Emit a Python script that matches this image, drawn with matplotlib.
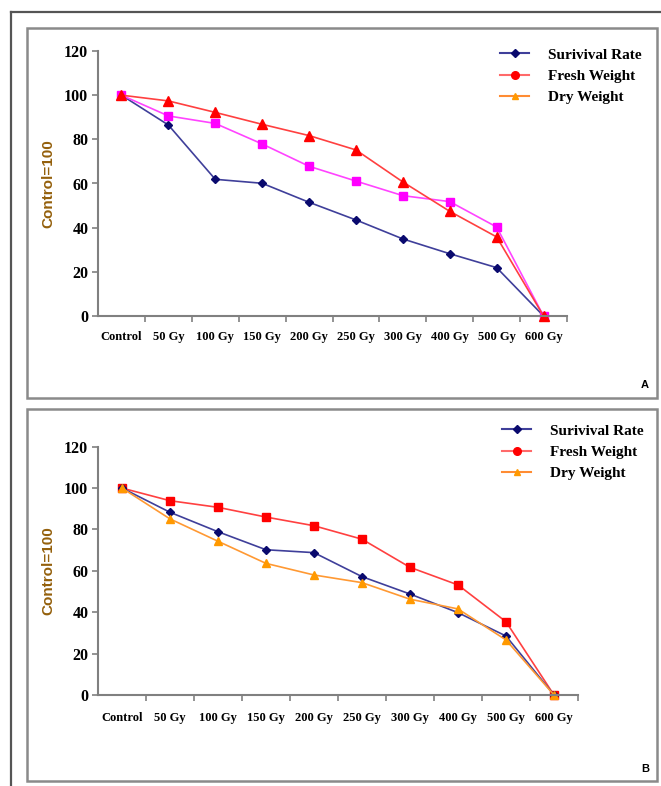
import matplotlib
matplotlib.use("Agg")
import matplotlib.pyplot as plt
from matplotlib.lines import Line2D
from matplotlib.patches import Rectangle

categories = ["Control", "50 Gy", "100 Gy", "150 Gy", "200 Gy", "250 Gy",
              "300 Gy", "400 Gy", "500 Gy", "600 Gy"]
yticks = [0, 20, 40, 60, 80, 100, 120]
legend_labels = ["Surivival Rate", "Fresh Weight", "Dry Weight"]

# Panel A
survival_a = [100, 86.5, 61.9, 60.1, 51.5, 43.5, 34.9, 28.2, 21.9, 0]
fresh_a = [100, 97.4, 92.2, 86.8, 81.7, 75.2, 60.7, 47.4, 35.8, 0]
dry_a = [100, 90.6, 87.2, 77.9, 67.8, 61.1, 54.5, 51.8, 40.3, 0]

# Panel B
survival_b = [100, 88.3, 78.9, 70.2, 68.8, 57.2, 48.8, 39.8, 28.5, 0]
fresh_b = [100, 93.9, 90.7, 86.0, 81.8, 75.3, 61.7, 53.2, 35.4, 0]
dry_b = [100, 85.1, 74.3, 63.6, 58.0, 54.3, 46.3, 41.6, 26.6, 0]

W, H = 661, 786
fig = plt.figure(figsize=(W / 100, H / 100), dpi=100)

def fx(px):
    return px / W

def fy(py):
    return 1 - py / H

# outer frame lines
fig.add_artist(Line2D([fx(11), fx(11)], [fy(12), 0], color="#555555", lw=1.6))
fig.add_artist(Line2D([fx(11), 1], [fy(12), fy(12)], color="#555555", lw=1.6))
# panel boxes
for (x0, y0, x1, y1) in [(27, 28, 657, 398), (27, 409, 657, 781)]:
    fig.add_artist(Rectangle((fx(x0), fy(y1)), fx(x1 - x0), (y1 - y0) / H,
                             fill=False, edgecolor="#8a8a8a", lw=1.8))

serif = "Liberation Serif"
sans = "Liberation Sans"
navy_line = "#3f3f9a"
navy_mk = "#0a0a6e"

def style_axes(ax, label_pad):
    n = len(categories)
    ax.set_xlim(-0.5, n - 0.5)
    ax.set_ylim(0, 120)
    ax.set_yticks(yticks)
    ax.set_yticklabels([str(v) for v in yticks], fontfamily=serif,
                       fontweight="bold", fontsize=11.5)
    ax.set_xticks([i + 0.5 for i in range(n)])
    ax.set_xticklabels([])
    ax.set_xticks(range(n), minor=True)
    ax.set_xticklabels(categories, minor=True, fontfamily=serif,
                       fontweight="bold", fontsize=9)
    ax.tick_params(axis="x", which="major", direction="out", length=4,
                   width=1.2, color="#808080")
    ax.tick_params(axis="x", which="minor", length=0, pad=label_pad)
    ax.tick_params(axis="y", direction="out", length=4, width=1.2,
                   color="#808080", pad=3)
    for s in ["top", "right"]:
        ax.spines[s].set_visible(False)
    for s in ["left", "bottom"]:
        ax.spines[s].set_color("#808080")
        ax.spines[s].set_linewidth(1.5)
    ax.set_ylabel("Control=100", fontfamily=sans, fontweight="bold",
                  fontsize=11, color="#94600c", labelpad=6)
    for sp in ax.spines.values():
        sp.set_clip_on(False)

legend_handles = [
    Line2D([], [], color=navy_line, marker="D", markersize=4.5,
           markerfacecolor=navy_mk, markeredgecolor=navy_mk, lw=1.5),
    Line2D([], [], color="#ff6a6a", marker="o", markersize=5.5,
           markerfacecolor="#ff0000", markeredgecolor="#ff0000", lw=1.5),
    Line2D([], [], color="#ff8c33", marker="^", markersize=4.5,
           markerfacecolor="#ff9900", markeredgecolor="#ff9900", lw=1.5),
]
legend_kw = dict(loc="upper left", bbox_transform=fig.transFigure,
                 frameon=False,
                 prop={"family": serif, "weight": "bold", "size": 11},
                 handlelength=1.9, handletextpad=1.25, labelspacing=0.5,
                 borderaxespad=0, borderpad=0)

# ---------- Panel A ----------
axA = fig.add_axes([fx(98), fy(316), fx(567 - 98), (316 - 51) / H])
x = list(range(len(categories)))
axA.plot(x, survival_a, color=navy_line, lw=1.2, marker="D", markersize=4.5,
         markerfacecolor=navy_mk, markeredgecolor=navy_mk, clip_on=False)
axA.plot(x, dry_a, color="#ff44ff", lw=1.2, marker="s", markersize=6,
         markerfacecolor="#ff00ff", markeredgecolor="#ff00ff", clip_on=False)
axA.plot(x, fresh_a, color="#ff4040", lw=1.2, marker="^", markersize=6.5,
         markerfacecolor="#ff0000", markeredgecolor="#ff0000", clip_on=False)
style_axes(axA, 11)
axA.legend(legend_handles, legend_labels,
           bbox_to_anchor=(fx(500), fy(48)), **legend_kw)
fig.text(fx(645), fy(385), "A", fontfamily=sans, fontweight="bold",
         fontsize=8, ha="center", va="center")

# ---------- Panel B ----------
axB = fig.add_axes([fx(98), fy(695), fx(578 - 98), (695 - 446.7) / H])
axB.plot(x, fresh_b, color="#ff4040", lw=1.2, marker="s", markersize=6,
         markerfacecolor="#ff0000", markeredgecolor="#ff0000", clip_on=False)
axB.plot(x, survival_b, color=navy_line, lw=1.2, marker="D", markersize=4.5,
         markerfacecolor=navy_mk, markeredgecolor=navy_mk, clip_on=False)
axB.plot(x, dry_b, color="#ff9933", lw=1.2, marker="^", markersize=6,
         markerfacecolor="#ff9900", markeredgecolor="#ff9900", clip_on=False)
style_axes(axB, 12)
axB.legend(legend_handles, legend_labels,
           bbox_to_anchor=(fx(502), fy(424)), **legend_kw)
fig.text(fx(645), fy(769), "B", fontfamily=sans, fontweight="bold",
         fontsize=8, ha="center", va="center")

fig.savefig("out.png", dpi=100)
